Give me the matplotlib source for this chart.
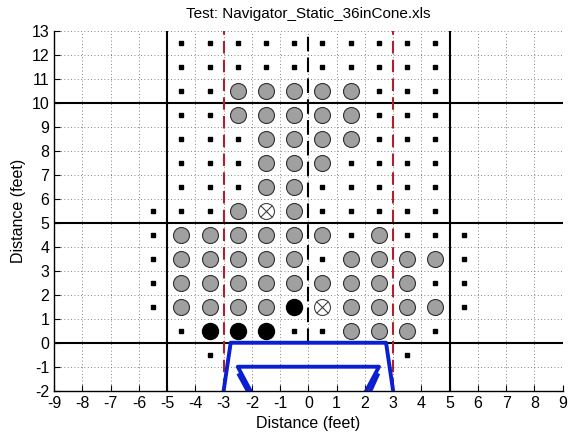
import numpy as np
import matplotlib
matplotlib.use('Agg')
import matplotlib.pyplot as plt

plt.rcParams['font.family'] = ['Liberation Sans', 'DejaVu Sans']
plt.rcParams['axes.unicode_minus'] = False

titulo = 'Test: Navigator_Static_36inCone.xls'

# columnas y filas de la rejilla de prueba (pies)
x_cols = [-5.5, -4.5, -3.5, -2.5, -1.5, -0.5, 0.5, 1.5, 2.5, 3.5, 4.5, 5.5]
y_rows = [12.5, 11.5, 10.5, 9.5, 8.5, 7.5, 6.5, 5.5, 4.5, 3.5, 2.5, 1.5, 0.5, -0.5]

# '.' probado sin deteccion, 'o' detectado, 'b' detectado (negro), 'x' cono, ' ' nada
mapa = [
    " .......... ",
    " .......... ",
    " ..ooooo... ",
    " ..ooooo... ",
    " ...oooo... ",
    " ...ooo.... ",
    " ...oo..... ",
    "...oxo..... ",
    ".oooooo.o...",
    ".ooooo.oooo.",
    ".ooooooooo..",
    ".oooobxoooo.",
    " .bbb..ooo. ",
    "  .      .  ",
]

# contorno del robot
robot_ext_x = [-3.0, -2.75, 2.75, 3.0]
robot_ext_y = [-2.0, 0.0, 0.0, -2.0]
robot_int_x = [-2.05, -2.5, 2.5, 2.05]
robot_int_y = [-2.0, -1.0, -1.0, -2.0]


def puntos(codigo):
    xs, ys = [], []
    for fila, y in zip(mapa, y_rows):
        for c, x in zip(fila, x_cols):
            if c == codigo:
                xs.append(x)
                ys.append(y)
    return xs, ys


fig = plt.figure(figsize=(5.7, 4.4), dpi=100)
ax = fig.add_axes([0.095, 0.112, 0.892, 0.818])

# rejilla punteada
for v in range(-9, 10):
    ax.axvline(v, color='0.35', linestyle=(0, (1, 3)), linewidth=0.6, zorder=0)
for v in range(-2, 14):
    ax.axhline(v, color='0.35', linestyle=(0, (1, 3)), linewidth=0.6, zorder=0)

# lineas de referencia
for v in [0, 5, 10]:
    ax.axhline(v, color='black', linewidth=1.5, zorder=1)
for v in [-5, 5]:
    ax.axvline(v, color='black', linewidth=1.5, zorder=1)
ax.plot([0, 0], [0, 13], color='black', linestyle='--', dashes=(7, 3), linewidth=1.5, zorder=1)
for v in [-3, 3]:
    ax.axvline(v, color='#b0202a', linestyle='--', dashes=(6, 3), linewidth=1.5, zorder=1)

# marcadores
xs, ys = puntos('.')
ax.plot(xs, ys, 's', color='black', markersize=3.2, linestyle='none', zorder=3)
xs, ys = puntos('o')
ax.plot(xs, ys, 'o', markerfacecolor='#a0a0a0', markeredgecolor='#303030',
        markeredgewidth=0.8, markersize=11.5, linestyle='none', zorder=3)
xs, ys = puntos('b')
ax.plot(xs, ys, 'o', markerfacecolor='black', markeredgecolor='black',
        markersize=11.5, linestyle='none', zorder=3)
xs, ys = puntos('x')
ax.plot(xs, ys, 'o', markerfacecolor='white', markeredgecolor='#404040',
        markeredgewidth=0.8, markersize=11.5, linestyle='none', zorder=3)
ax.plot(xs, ys, 'x', color='#404040', markeredgewidth=0.8, markersize=8,
        linestyle='none', zorder=4)

# robot
ax.plot(robot_ext_x, robot_ext_y, color='#0a1ed2', linewidth=2.8, zorder=5)
ax.plot(robot_int_x, robot_int_y, color='#0a1ed2', linewidth=2.8, zorder=5)
ax.plot([-2.45, -2.15], [-1.35, -2.0], color='#0a1ed2', linewidth=2.8, zorder=5)
ax.plot([2.45, 2.2], [-1.35, -2.0], color='#0a1ed2', linewidth=2.8, zorder=5)

ax.set_xlim(-9, 9)
ax.set_ylim(-2, 13)
ax.set_xticks(range(-9, 10))
ax.set_yticks(range(-2, 14))
ax.tick_params(direction='in', length=4, width=0.8, labelsize=11.5, top=False, right=False)
for lado in ['top', 'right']:
    ax.spines[lado].set_visible(False)
for lado in ['left', 'bottom']:
    ax.spines[lado].set_linewidth(1.0)

ax.set_title(titulo, fontsize=11, pad=9)
ax.set_xlabel('Distance (feet)', fontsize=11.5)
ax.set_ylabel('Distance (feet)', fontsize=11.5)

fig.savefig('out.png', dpi=100)
plt.close(fig)
